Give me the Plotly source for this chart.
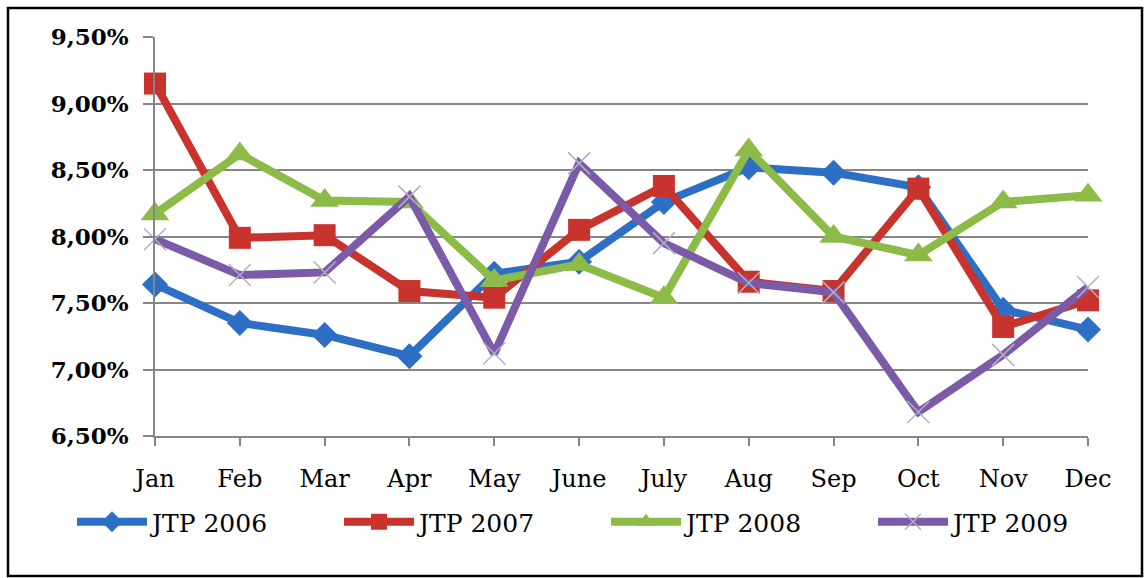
import plotly.graph_objects as go

months = ["Jan", "Feb", "Mar", "Apr", "May", "June", "July", "Aug", "Sep", "Oct", "Nov", "Dec"]
jtp_2006 = [7.64, 7.35, 7.26, 7.10, 7.72, 7.81, 8.26, 8.52, 8.48, 8.37, 7.45, 7.30]
jtp_2007 = [9.15, 7.99, 8.01, 7.59, 7.54, 8.05, 8.38, 7.66, 7.59, 8.36, 7.32, 7.52]
jtp_2008 = [8.17, 8.62, 8.27, 8.26, 7.67, 7.79, 7.54, 8.65, 8.00, 7.86, 8.26, 8.31]
jtp_2009 = [7.98, 7.71, 7.73, 8.30, 7.12, 8.55, 7.95, 7.65, 7.58, 6.68, 7.11, 7.62]
y_ticks = [6.5, 7.0, 7.5, 8.0, 8.5, 9.0, 9.5]
y_tick_labels = ["6,50%", "7,00%", "7,50%", "8,00%", "8,50%", "9,00%", "9,50%"]

W, H = 1146, 578
L, R, T, B = 155, 1088, 37, 436

def px_x(p):
    return (p - L) / (R - L)

def px_y(p):
    return (B - p) / (B - T)

FONT = "DejaVu Serif"

series = [
    ("JTP 2006", jtp_2006, "#2E6FC6", dict(symbol="diamond", size=20, color="#2E6FC6")),
    ("JTP 2007", jtp_2007, "#C8332D", dict(symbol="square", size=22, color="#C8332D")),
    ("JTP 2008", jtp_2008, "#8DBB48", dict(symbol="triangle-up", size=25, color="#8DBB48")),
    ("JTP 2009", jtp_2009, "#7B5BA8", dict(symbol="x-thin-open", size=22, color="#B4AEC4",
                                           line=dict(width=1.5, color="#B4AEC4"))),
]

fig = go.Figure()
for name, vals, col, mk in series:
    fig.add_trace(go.Scatter(
        x=months, y=vals, name=name, mode="lines+markers",
        line=dict(color=col, width=8),
        marker=mk, cliponaxis=False,
    ))

fig.update_layout(
    width=W, height=H,
    margin=dict(l=L, r=W - R, t=T, b=H - B),
    paper_bgcolor="white", plot_bgcolor="white",
    font=dict(family=FONT, size=24, color="black"),
    showlegend=True,
    legend=dict(
        orientation="h", x=px_x(72), y=px_y(522), xanchor="left", yanchor="middle",
        font=dict(family=FONT, size=25, color="black"),
        itemwidth=70, entrywidth=182, entrywidthmode="pixels",
        bgcolor="rgba(0,0,0,0)",
    ),
    xaxis=dict(
        type="category", range=[0, 11],
        showgrid=False, showline=True, linecolor="#868686", linewidth=1.5,
        ticks="outside", ticklen=8, tickcolor="#868686", tickwidth=1.5,
        tickfont=dict(family=FONT, size=24, color="black"),
        ticklabelstandoff=12, zeroline=False,
    ),
    yaxis=dict(
        range=[6.5, 9.5], tickvals=y_ticks, ticktext=y_tick_labels,
        showgrid=True, gridcolor="#868686", gridwidth=1.5,
        showline=True, linecolor="#868686", linewidth=1.5,
        ticks="outside", ticklen=10, tickcolor="#868686", tickwidth=1.5,
        tickfont=dict(family=FONT, size=23, color="black", weight="bold"),
        ticklabelstandoff=10, zeroline=False,
    ),
    shapes=[
        dict(type="rect", xref="paper", yref="paper",
             x0=px_x(8), x1=px_x(1142), y0=px_y(576), y1=px_y(8),
             line=dict(color="black", width=2.5), layer="below"),
    ],
)

fig.write_html("out.html")
